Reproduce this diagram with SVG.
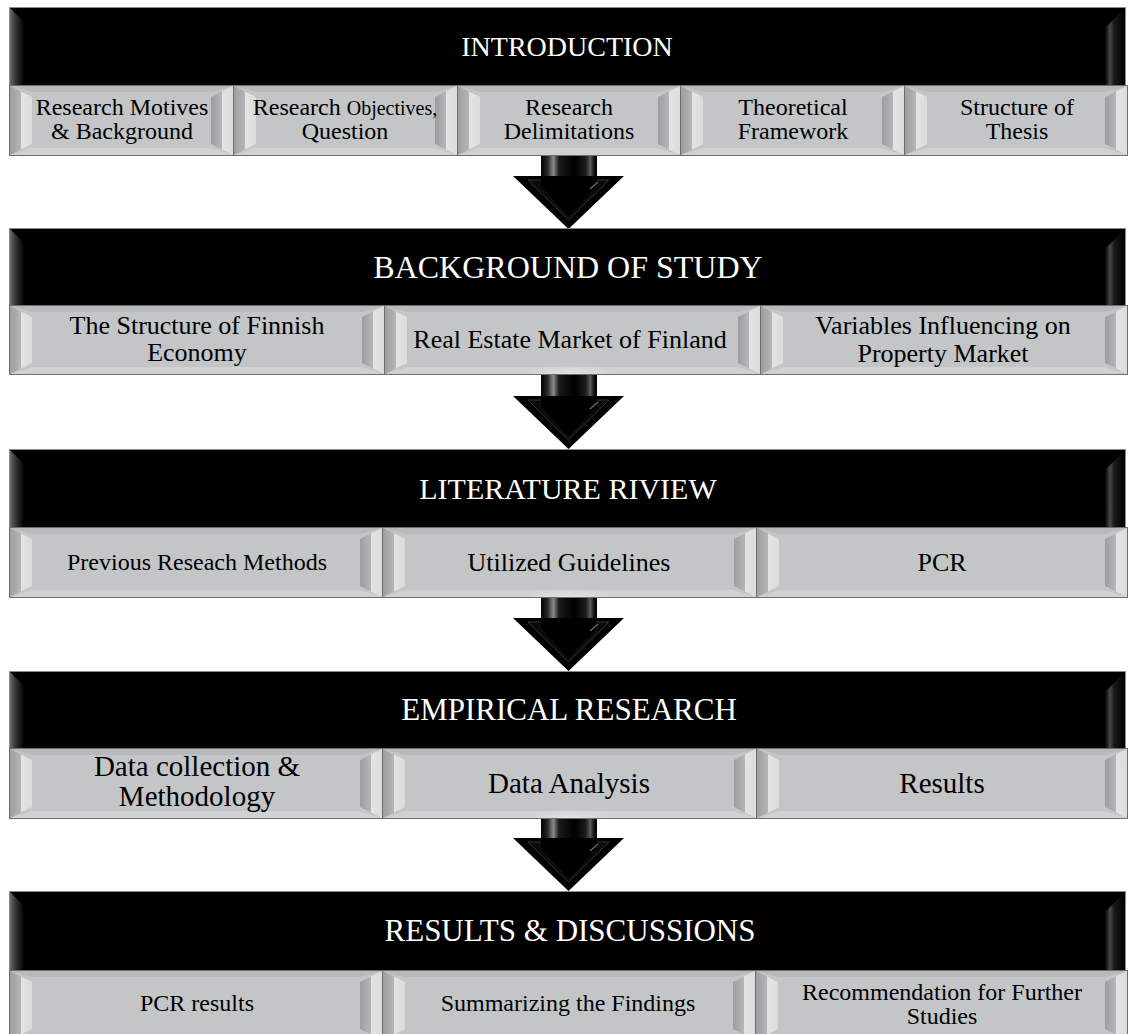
<svg xmlns="http://www.w3.org/2000/svg" width="1128" height="1034" viewBox="0 0 1128 1034">
<defs>
<linearGradient id="hdrL" x1="0" y1="0" x2="1" y2="0">
<stop offset="0" stop-color="#6a6a6a"/><stop offset="0.35" stop-color="#3a3a3a"/><stop offset="1" stop-color="#000"/>
</linearGradient>
<linearGradient id="hdrR" x1="0" y1="0" x2="1" y2="0">
<stop offset="0" stop-color="#000"/><stop offset="0.25" stop-color="#4a4a4a"/><stop offset="0.45" stop-color="#1a1a1a"/><stop offset="1" stop-color="#000"/>
</linearGradient>
<linearGradient id="facet" x1="0" y1="0" x2="1" y2="0">
<stop offset="0" stop-color="#9c9ea0"/><stop offset="0.48" stop-color="#b3b5b7"/><stop offset="0.52" stop-color="#e3e3e3"/><stop offset="1" stop-color="#dcdcdc"/>
</linearGradient>
<linearGradient id="shaft" x1="0" y1="0" x2="1" y2="0">
<stop offset="0" stop-color="#000"/><stop offset="0.12" stop-color="#2a2a2a"/><stop offset="0.22" stop-color="#8a8a8a"/><stop offset="0.32" stop-color="#1a1a1a"/><stop offset="0.6" stop-color="#000"/><stop offset="0.8" stop-color="#1c1c1c"/><stop offset="0.88" stop-color="#5a5a5a"/><stop offset="0.95" stop-color="#111"/><stop offset="1" stop-color="#000"/>
</linearGradient>
<radialGradient id="glow" cx="0.5" cy="1" r="0.6">
<stop offset="0" stop-color="#fff" stop-opacity="0.35"/><stop offset="1" stop-color="#fff" stop-opacity="0"/>
</radialGradient>
</defs>
<style>
.hdr{fill:#000;stroke:#8a8a8a;stroke-width:1}
.sub{fill:#c3c5c7;stroke:#6e6e6e;stroke-width:1}
.ftop{fill:#b7babc}
.fbot{fill:#cfd1d3}
.fside{fill:url(#facet)}
.ht{font-family:"Liberation Serif","Times New Roman",serif;fill:#fff;text-anchor:middle}
.st{font-family:"Liberation Serif","Times New Roman",serif;fill:#000;text-anchor:middle}
.head{fill:#000}
.hfacet{fill:#0b0b0b;stroke:#333;stroke-width:1}
</style>

<!-- connectors -->
<g id="connectors">
<g id="arrow1">
<rect x="541" y="155" width="56" height="25" fill="url(#shaft)"/>
<polygon class="head" points="513,176 624,176 568.5,229"/>
<polygon class="hfacet" points="528,180 609,180 568.5,220"/>
<polygon fill="#000" points="541,176 597,176 597,186 568.5,216 541,186"/>
<line x1="590" y1="189" x2="598" y2="182" stroke="#666" stroke-width="1.5"/>
</g>
<g id="arrow2">
<rect x="541" y="374" width="56" height="26" fill="url(#shaft)"/>
<polygon class="head" points="513,396 624,396 568.5,449"/>
<polygon class="hfacet" points="528,400 609,400 568.5,440"/>
<polygon fill="#000" points="541,396 597,396 597,406 568.5,436 541,406"/>
<line x1="590" y1="409" x2="598" y2="402" stroke="#666" stroke-width="1.5"/>
</g>
<g id="arrow3">
<rect x="541" y="597" width="56" height="25" fill="url(#shaft)"/>
<polygon class="head" points="513,618 624,618 568.5,671"/>
<polygon class="hfacet" points="528,622 609,622 568.5,662"/>
<polygon fill="#000" points="541,618 597,618 597,628 568.5,658 541,628"/>
<line x1="590" y1="631" x2="598" y2="624" stroke="#666" stroke-width="1.5"/>
</g>
<g id="arrow4">
<rect x="541" y="818" width="56" height="24" fill="url(#shaft)"/>
<polygon class="head" points="513,838 624,838 568.5,891"/>
<polygon class="hfacet" points="528,842 609,842 568.5,882"/>
<polygon fill="#000" points="541,838 597,838 597,848 568.5,878 541,848"/>
<line x1="590" y1="851" x2="598" y2="844" stroke="#666" stroke-width="1.5"/>
</g>
</g>

<!-- Band 1 -->
<g id="introduction">
<rect class="hdr" x="9.5" y="7.5" width="1116" height="78"/>
<polygon fill="url(#hdrL)" points="10,8 24,22 24,85 10,85"/>
<polygon fill="url(#hdrR)" points="1125,8 1105,28 1105,85 1125,85"/>
<text class="ht" x="567" y="56" font-size="28">INTRODUCTION</text>
</g>
<g id="intro-1">
<rect class="sub" x="9.5" y="85.5" width="224" height="70"/>
<polygon class="ftop" points="10,86 233,86 211,92 32,92"/>
<polygon class="fbot" points="10,155 233,155 211,148 32,148"/>
<polygon class="fside" points="10,86 32,97 32,144 10,155"/>
<polygon class="fside" points="233,86 211,97 211,144 233,155"/>
<text class="st" x="122" y="115" font-size="24">Research Motives</text>
<text class="st" x="122" y="139" font-size="24">&amp; Background</text>
</g>
<g id="intro-2">
<rect class="sub" x="233.5" y="85.5" width="224" height="70"/>
<polygon class="ftop" points="234,86 457,86 435,92 256,92"/>
<polygon class="fbot" points="234,155 457,155 435,148 256,148"/>
<polygon class="fside" points="234,86 256,97 256,144 234,155"/>
<polygon class="fside" points="457,86 435,97 435,144 457,155"/>
<text class="st" x="345" y="115" font-size="24">Research <tspan font-size="20">Objectives,</tspan></text>
<text class="st" x="345" y="139" font-size="24">Question</text>
</g>
<g id="intro-3">
<rect class="sub" x="457.5" y="85.5" width="223" height="70"/>
<polygon class="ftop" points="458,86 680,86 658,92 480,92"/>
<polygon class="fbot" points="458,155 680,155 658,148 480,148"/>
<polygon class="fside" points="458,86 480,97 480,144 458,155"/>
<polygon class="fside" points="680,86 658,97 658,144 680,155"/>
<text class="st" x="569" y="115" font-size="24">Research</text>
<text class="st" x="569" y="139" font-size="24">Delimitations</text>
</g>
<g id="intro-4">
<rect class="sub" x="680.5" y="85.5" width="224" height="70"/>
<polygon class="ftop" points="681,86 904,86 882,92 703,92"/>
<polygon class="fbot" points="681,155 904,155 882,148 703,148"/>
<polygon class="fside" points="681,86 703,97 703,144 681,155"/>
<polygon class="fside" points="904,86 882,97 882,144 904,155"/>
<text class="st" x="793" y="115" font-size="24">Theoretical</text>
<text class="st" x="793" y="139" font-size="24">Framework</text>
</g>
<g id="intro-5">
<rect class="sub" x="904.5" y="85.5" width="223" height="70"/>
<polygon class="ftop" points="905,86 1127,86 1105,92 927,92"/>
<polygon class="fbot" points="905,155 1127,155 1105,148 927,148"/>
<polygon class="fside" points="905,86 927,97 927,144 905,155"/>
<polygon class="fside" points="1127,86 1105,97 1105,144 1127,155"/>
<text class="st" x="1017" y="115" font-size="24">Structure of</text>
<text class="st" x="1017" y="139" font-size="24">Thesis</text>
</g>

<!-- Band 2 -->
<g id="background">
<rect class="hdr" x="9.5" y="228.5" width="1116" height="77"/>
<polygon fill="url(#hdrL)" points="10,229 24,243 24,305 10,305"/>
<polygon fill="url(#hdrR)" points="1125,229 1105,249 1105,305 1125,305"/>
<text class="ht" x="568" y="278" font-size="32">BACKGROUND OF STUDY</text>
</g>
<g id="bg-1">
<rect class="sub" x="9.5" y="305.5" width="375" height="69"/>
<polygon class="ftop" points="10,306 384,306 362,312 32,312"/>
<polygon class="fbot" points="10,374 384,374 362,367 32,367"/>
<polygon class="fside" points="10,306 32,317 32,363 10,374"/>
<polygon class="fside" points="384,306 362,317 362,363 384,374"/>
<text class="st" x="197" y="334" font-size="26">The Structure of Finnish</text>
<text class="st" x="197" y="361" font-size="26">Economy</text>
</g>
<g id="bg-2">
<rect class="sub" x="384.5" y="305.5" width="376" height="69"/>
<polygon class="ftop" points="385,306 760,306 738,312 407,312"/>
<polygon class="fbot" points="385,374 760,374 738,367 407,367"/>
<polygon class="fside" points="385,306 407,317 407,363 385,374"/>
<polygon class="fside" points="760,306 738,317 738,363 760,374"/>
<path d="M528,374 A41,16 0 0 1 610,374 Z" fill="url(#glow)"/>
<text class="st" x="570" y="348" font-size="26">Real Estate Market of Finland</text>
</g>
<g id="bg-3">
<rect class="sub" x="760.5" y="305.5" width="367" height="69"/>
<polygon class="ftop" points="761,306 1127,306 1105,312 783,312"/>
<polygon class="fbot" points="761,374 1127,374 1105,367 783,367"/>
<polygon class="fside" points="761,306 783,317 783,363 761,374"/>
<polygon class="fside" points="1127,306 1105,317 1105,363 1127,374"/>
<text class="st" x="943" y="334" font-size="26">Variables Influencing on</text>
<text class="st" x="943" y="362" font-size="26">Property Market</text>
</g>

<!-- Band 3 -->
<g id="literature">
<rect class="hdr" x="9.5" y="449.5" width="1116" height="78"/>
<polygon fill="url(#hdrL)" points="10,450 24,464 24,527 10,527"/>
<polygon fill="url(#hdrR)" points="1125,450 1105,470 1105,527 1125,527"/>
<text class="ht" x="568" y="499" font-size="30">LITERATURE RIVIEW</text>
</g>
<g id="lit-1">
<rect class="sub" x="9.5" y="527.5" width="373" height="70"/>
<polygon class="ftop" points="10,528 382,528 360,534 32,534"/>
<polygon class="fbot" points="10,597 382,597 360,590 32,590"/>
<polygon class="fside" points="10,528 32,539 32,586 10,597"/>
<polygon class="fside" points="382,528 360,539 360,586 382,597"/>
<text class="st" x="197" y="570" font-size="24">Previous Reseach Methods</text>
</g>
<g id="lit-2">
<rect class="sub" x="382.5" y="527.5" width="374" height="70"/>
<polygon class="ftop" points="383,528 756,528 734,534 405,534"/>
<polygon class="fbot" points="383,597 756,597 734,590 405,590"/>
<polygon class="fside" points="383,528 405,539 405,586 383,597"/>
<polygon class="fside" points="756,528 734,539 734,586 756,597"/>
<path d="M528,597 A41,16 0 0 1 610,597 Z" fill="url(#glow)"/>
<text class="st" x="569" y="571" font-size="26">Utilized Guidelines</text>
</g>
<g id="lit-3">
<rect class="sub" x="756.5" y="527.5" width="371" height="70"/>
<polygon class="ftop" points="757,528 1127,528 1105,534 779,534"/>
<polygon class="fbot" points="757,597 1127,597 1105,590 779,590"/>
<polygon class="fside" points="757,528 779,539 779,586 757,597"/>
<polygon class="fside" points="1127,528 1105,539 1105,586 1127,597"/>
<text class="st" x="942" y="571" font-size="26">PCR</text>
</g>

<!-- Band 4 -->
<g id="empirical">
<rect class="hdr" x="9.5" y="671.5" width="1116" height="77"/>
<polygon fill="url(#hdrL)" points="10,672 24,686 24,748 10,748"/>
<polygon fill="url(#hdrR)" points="1125,672 1105,692 1105,748 1125,748"/>
<text class="ht" x="569" y="720" font-size="31">EMPIRICAL RESEARCH</text>
</g>
<g id="emp-1">
<rect class="sub" x="9.5" y="748.5" width="373" height="70"/>
<polygon class="ftop" points="10,749 382,749 360,755 32,755"/>
<polygon class="fbot" points="10,818 382,818 360,811 32,811"/>
<polygon class="fside" points="10,749 32,760 32,807 10,818"/>
<polygon class="fside" points="382,749 360,760 360,807 382,818"/>
<text class="st" x="197" y="776" font-size="29">Data collection &amp;</text>
<text class="st" x="197" y="806" font-size="29">Methodology</text>
</g>
<g id="emp-2">
<rect class="sub" x="382.5" y="748.5" width="374" height="70"/>
<polygon class="ftop" points="383,749 756,749 734,755 405,755"/>
<polygon class="fbot" points="383,818 756,818 734,811 405,811"/>
<polygon class="fside" points="383,749 405,760 405,807 383,818"/>
<polygon class="fside" points="756,749 734,760 734,807 756,818"/>
<path d="M528,818 A41,16 0 0 1 610,818 Z" fill="url(#glow)"/>
<text class="st" x="569" y="793" font-size="29">Data Analysis</text>
</g>
<g id="emp-3">
<rect class="sub" x="756.5" y="748.5" width="371" height="70"/>
<polygon class="ftop" points="757,749 1127,749 1105,755 779,755"/>
<polygon class="fbot" points="757,818 1127,818 1105,811 779,811"/>
<polygon class="fside" points="757,749 779,760 779,807 757,818"/>
<polygon class="fside" points="1127,749 1105,760 1105,807 1127,818"/>
<text class="st" x="942" y="793" font-size="29">Results</text>
</g>

<!-- Band 5 -->
<g id="results">
<rect class="hdr" x="9.5" y="891.5" width="1116" height="79"/>
<polygon fill="url(#hdrL)" points="10,892 24,906 24,970 10,970"/>
<polygon fill="url(#hdrR)" points="1125,892 1105,912 1105,970 1125,970"/>
<text class="ht" x="570" y="941" font-size="31">RESULTS &amp; DISCUSSIONS</text>
</g>
<g id="res-1">
<rect class="sub" x="9.5" y="970.5" width="373" height="70"/>
<polygon class="ftop" points="10,971 382,971 360,977 32,977"/>
<polygon class="fside" points="10,971 32,982 32,1029 10,1040"/>
<polygon class="fside" points="382,971 360,982 360,1029 382,1040"/>
<text class="st" x="197" y="1011" font-size="24">PCR results</text>
</g>
<g id="res-2">
<rect class="sub" x="382.5" y="970.5" width="373" height="70"/>
<polygon class="ftop" points="383,971 755,971 733,977 405,977"/>
<polygon class="fside" points="383,971 405,982 405,1029 383,1040"/>
<polygon class="fside" points="755,971 733,982 733,1029 755,1040"/>
<text class="st" x="568" y="1011" font-size="24">Summarizing the Findings</text>
</g>
<g id="res-3">
<rect class="sub" x="755.5" y="970.5" width="372" height="70"/>
<polygon class="ftop" points="756,971 1127,971 1105,977 778,977"/>
<polygon class="fside" points="756,971 778,982 778,1029 756,1040"/>
<polygon class="fside" points="1127,971 1105,982 1105,1029 1127,1040"/>
<text class="st" x="942" y="1000" font-size="24">Recommendation for Further</text>
<text class="st" x="942" y="1024" font-size="24">Studies</text>
</g>
</svg>
